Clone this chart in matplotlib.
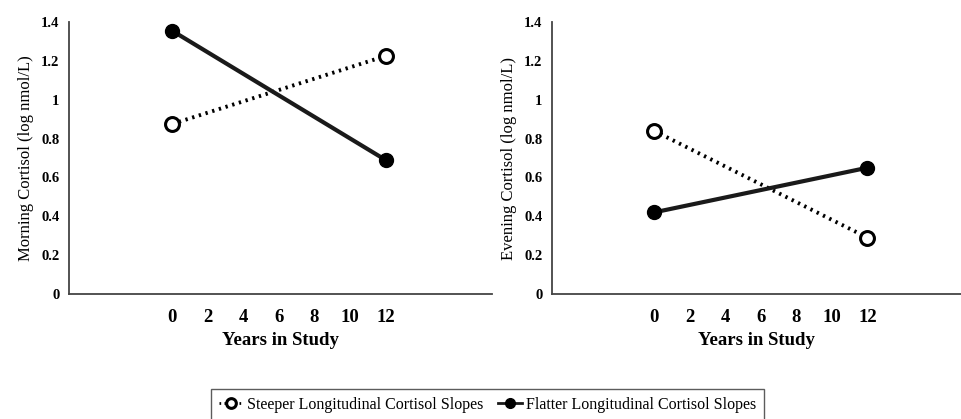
import matplotlib
matplotlib.use("Agg")
import matplotlib.pyplot as plt

plt.rcParams['font.family'] = ['Liberation Serif', 'DejaVu Serif']

years = [0, 12]
xticks = [0, 2, 4, 6, 8, 10, 12]
yticks = [0, 0.2, 0.4, 0.6, 0.8, 1, 1.2, 1.4]
ytick_labels = ["0", "0.2", "0.4", "0.6", "0.8", "1", "1.2", "1.4"]

morning_steeper = [0.875, 1.225]
morning_flatter = [1.355, 0.69]
evening_steeper = [0.84, 0.29]
evening_flatter = [0.42, 0.65]

label_steep = "Steeper Longitudinal Cortisol Slopes"
label_flat = "Flatter Longitudinal Cortisol Slopes"

fig = plt.figure(figsize=(9.62, 4.19), dpi=100)
ax1 = fig.add_axes([0.0717, 0.2983, 0.44, 0.6492])
ax2 = fig.add_axes([0.5738, 0.2983, 0.426, 0.6492])

panels = [
    (ax1, morning_steeper, morning_flatter, "Morning Cortisol (log nmol/L)", (-5.8, 18.0)),
    (ax2, evening_steeper, evening_flatter, "Evening Cortisol (log nmol/L)", (-5.73, 17.3)),
]

for ax, steep, flat, ylab, xl in panels:
    ax.plot(years, steep, linestyle=(0, (0.6, 1.2)), color="black", lw=2.8,
            marker="o", ms=10, mfc="white", mec="black", mew=2.2,
            label=label_steep, zorder=3)
    ax.plot(years, flat, linestyle="-", color="#1a1a1a", lw=3.0,
            marker="o", ms=10, mfc="black", mec="black",
            label=label_flat, zorder=3)
    ax.set_xlim(*xl)
    ax.set_ylim(0, 1.4)
    ax.set_xticks(xticks)
    ax.set_xticklabels([str(t) for t in xticks], fontsize=13.5, fontweight="bold")
    ax.set_yticks(yticks)
    ax.set_yticklabels(ytick_labels, fontsize=10.5, fontweight="bold")
    ax.tick_params(length=0)
    ax.tick_params(axis="x", pad=11)
    ax.tick_params(axis="y", pad=7)
    ax.set_xlabel("Years in Study", fontsize=13.5, fontweight="bold", labelpad=4)
    ax.set_ylabel(ylab, fontsize=12, labelpad=5)
    for s in ["top", "right"]:
        ax.spines[s].set_visible(False)
    for s in ["left", "bottom"]:
        ax.spines[s].set_color("#444444")
        ax.spines[s].set_linewidth(1.3)

handles, labels = ax1.get_legend_handles_labels()
leg = fig.legend(handles, labels, loc="lower center", ncol=2,
                 bbox_to_anchor=(0.507, -0.015), frameon=True, fancybox=False,
                 edgecolor="#333333", fontsize=11.5, handlelength=1.5,
                 handletextpad=0.25, columnspacing=0.9, borderpad=0.5,
                 borderaxespad=0.3)
leg.get_frame().set_linewidth(1.0)
for h in leg.legend_handles:
    h.set_markersize(7)
    h.set_linewidth(2.0)

fig.savefig("out.png", dpi=100)
